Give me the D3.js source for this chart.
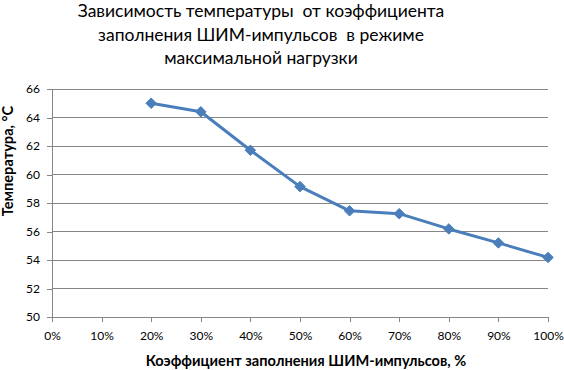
<!DOCTYPE html>
<html><head><meta charset="utf-8">
<script src="https://cdn.jsdelivr.net/npm/d3@7"></script>
<style>body{margin:0;background:#fff;} svg{display:block;}</style>
</head><body>
<svg id="chart" width="564" height="370"></svg>
<script>
const titleLines = ["Зависимость температуры  от коэффициента", "заполнения ШИМ-импульсов  в режиме", "максимальной нагрузки"];
const xLabel = "Коэффициент заполнения ШИМ-импульсов, %";
const yLabel = "Температура, °С";
const xValues = [0.2, 0.3, 0.4, 0.5, 0.6, 0.7, 0.8, 0.9, 1.0];
const temps = [65.0, 64.4, 61.7, 59.15, 57.45, 57.25, 56.18, 55.2, 54.18];
const xTicks = [0, 0.1, 0.2, 0.3, 0.4, 0.5, 0.6, 0.7, 0.8, 0.9, 1.0];
const yTicks = [50, 52, 54, 56, 58, 60, 62, 64, 66];

const svg = d3.select("#chart");
const font = "Lato, 'Open Sans', sans-serif";
const x = d3.scaleLinear().domain([0, 1]).range([52, 548]);
const y = d3.scaleLinear().domain([50, 66]).range([317, 89]);

// gridlines
svg.append("g").selectAll("line").data(yTicks.filter(d => d > 50)).join("line")
  .attr("x1", x(0)).attr("x2", x(1)).attr("y1", d => y(d)).attr("y2", d => y(d))
  .attr("stroke", "#868686").attr("stroke-width", 1).attr("shape-rendering", "crispEdges");

const xAxis = svg.append("g").attr("transform", `translate(0,${y(50)})`)
  .call(d3.axisBottom(x).tickValues(xTicks).tickFormat(d => Math.round(d * 100) + "%").tickSize(5).tickSizeOuter(0).tickPadding(9));
const yAxis = svg.append("g").attr("transform", `translate(${x(0)},0)`)
  .call(d3.axisLeft(y).tickValues(yTicks).tickSize(5).tickSizeOuter(0).tickPadding(7));
[xAxis, yAxis].forEach(g => {
  g.selectAll("path,line").attr("stroke", "#868686").attr("shape-rendering", "crispEdges");
  g.selectAll("text").attr("font-family", font).attr("font-size", 12).attr("fill", "#000");
});

// line
const line = d3.line().x((d, i) => x(xValues[i])).y(d => y(d));
svg.append("path").datum(temps).attr("d", line)
  .attr("fill", "none").attr("stroke", "#4a7ebb").attr("stroke-width", 3).attr("stroke-linejoin", "round");
svg.append("g").selectAll("path").data(temps).join("path")
  .attr("d", d3.symbol().type(d3.symbolDiamond2).size(70))
  .attr("transform", (d, i) => `translate(${x(xValues[i])},${y(d)})`)
  .attr("fill", "#4a7ebb").attr("stroke", "#4a7ebb").attr("stroke-width", 1);

// title
svg.append("g").selectAll("text").data(titleLines).join("text")
  .attr("x", 261).attr("y", (d, i) => 17 + i * 23.5)
  .attr("text-anchor", "middle").attr("font-family", font).attr("font-size", 17.5)
  .attr("fill", "#000").attr("xml:space", "preserve").style("white-space", "pre").text(d => d);

svg.append("text").attr("x", 306).attr("y", 366).attr("text-anchor", "middle")
  .attr("font-family", font).attr("font-weight", "bold").attr("font-size", 14.6).attr("fill", "#000").text(xLabel);
svg.append("text").attr("transform", "translate(12.5,161) rotate(-90)").attr("text-anchor", "middle")
  .attr("font-family", font).attr("font-weight", "bold").attr("font-size", 14.6).attr("fill", "#000").text(yLabel);
</script>
</body></html>
